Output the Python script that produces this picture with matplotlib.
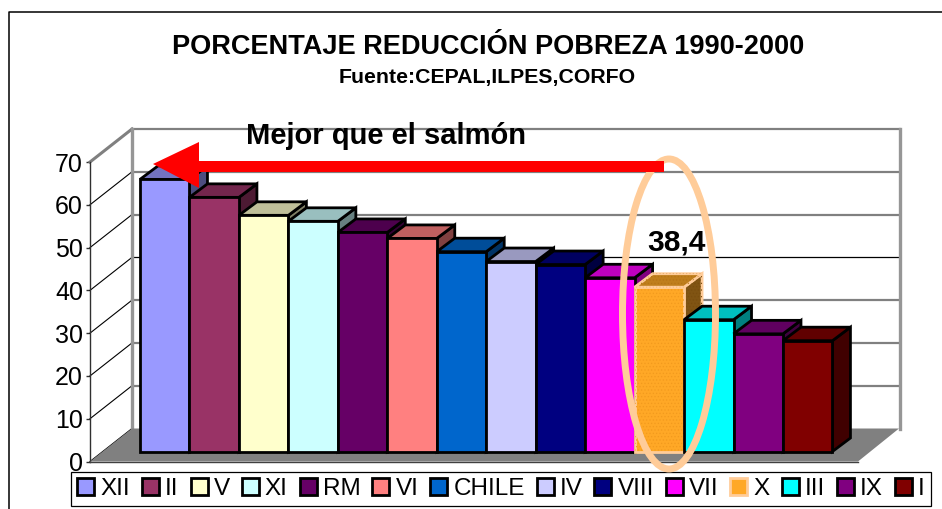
import matplotlib
matplotlib.use('Agg')
import matplotlib.pyplot as plt
from matplotlib.patches import Polygon, Rectangle, Ellipse
from matplotlib.transforms import Affine2D

categories = ["XII", "II", "V", "XI", "RM", "VI", "CHILE", "IV", "VIII", "VII", "X", "III", "IX", "I"]
values = [63.6, 59.4, 55.2, 53.8, 51.2, 49.8, 46.7, 44.4, 43.7, 40.6, 38.4, 30.8, 27.5, 25.9]
colors = ["#9999FF", "#993366", "#FFFFCC", "#CCFFFF", "#660066", "#FF8080", "#0066CC",
          "#CCCCFF", "#000080", "#FF00FF", "#FFA826", "#00FFFF", "#800080", "#800000"]
yticks = [0, 10, 20, 30, 40, 50, 60, 70]
highlight = "X"

W, H = 942, 509
PX_Y = 299.5 / 70        # pixels per unit on the value axis
BAR_W = 49.46            # pixels per category
DEPTH_X, DEPTH_Y = 18, 13.5
WALL_X, WALL_Y = 42, 33
GRID = "#808080"
PALE = "#FFCC99"

plt.rcParams['font.family'] = ['Liberation Sans', 'DejaVu Sans']
plt.rcParams['hatch.linewidth'] = 0.5


def shade(col, f):
    rgb = matplotlib.colors.to_rgb(col)
    return tuple(c * f for c in rgb)


fig = plt.figure(figsize=(W / 100, H / 100), dpi=100)
px = Affine2D().scale(1, -1).translate(0, H)  # picture pixels, y going down

# frame round the chart, runs off the right and bottom
fig.add_artist(plt.Line2D([8.5, 8.5, W + 2], [H + 2, 11.5, 11.5], transform=px, color="black", lw=1.1))

# value axis on the front edge, x in pixels
ay = fig.add_axes([90 / W, (H - 461.5) / H, 815 / W, 299.5 / H])
ay.set_xlim(90, 905)
ay.set_ylim(0, 70)
ay.patch.set_alpha(0)
for s in ["top", "right", "bottom"]:
    ay.spines[s].set_visible(False)
ay.spines["left"].set_linewidth(1.0)
ay.spines["left"].set_color("#303030")
ay.set_xticks([])
ay.set_yticks(yticks)
ay.tick_params(axis="y", labelsize=18, length=3, width=1, pad=2, color="#303030")

wall_dy = WALL_Y / PX_Y
for v in yticks:
    top = v == 70
    ay.plot([90, 90 + WALL_X], [v, v + wall_dy], color=GRID if top else "black",
            lw=2.2 if top else 0.8, clip_on=False, zorder=2)
    if v > 0:
        black = v == 40
        ay.plot([90 + WALL_X, 900], [v + wall_dy, v + wall_dy], color="black" if black else GRID,
                lw=0.9 if black else 1.6, clip_on=False, zorder=2)
ay.plot([90 + WALL_X, 90 + WALL_X], [wall_dy, 70 + wall_dy], color="#969696", lw=2.4, clip_on=False, zorder=3)
ay.plot([900, 900], [wall_dy, 70 + wall_dy], color="#969696", lw=2.4, clip_on=False, zorder=3)

# floor
ay.add_patch(Polygon([(90, 0), (858, 0), (899, wall_dy), (90 + WALL_X, wall_dy)],
                     facecolor="#808080", edgecolor="none", clip_on=False, zorder=4))
ay.plot([90, 858], [0, 0], color="#404040", lw=1.0, clip_on=False, zorder=5)

# bars, x in categories and y in values
ax = fig.add_axes([140 / W, (H - 451.5) / H, BAR_W * len(categories) / W, 299.5 / H])
ax.set_xlim(0, len(categories))
ax.set_ylim(0, 70)
ax.axis("off")
ddx = DEPTH_X / BAR_W
ddy = DEPTH_Y / PX_Y

for i, (name, val, col) in enumerate(zip(categories, values, colors)):
    edge = PALE if name == highlight else "black"
    lw = 2.0
    x0, x1 = i, i + 1
    front = [(x0, 0), (x1, 0), (x1, val), (x0, val)]
    top = [(x0, val), (x1, val), (x1 + ddx, val + ddy), (x0 + ddx, val + ddy)]
    side = [(x1, 0), (x1 + ddx, ddy), (x1 + ddx, val + ddy), (x1, val)]
    z = 3 + i
    for pts, f in [(side, 0.5), (top, 0.75), (front, 1.0)]:
        ax.add_patch(Polygon(pts, closed=True, facecolor=shade(col, f), edgecolor=edge, lw=lw,
                             joinstyle="miter", clip_on=False, zorder=z))
        if name == highlight:
            ax.add_patch(Polygon(pts, closed=True, facecolor="none", edgecolor=shade("#F29A1E", f),
                                 lw=0, hatch=".....", clip_on=False, zorder=z))
    if name == highlight:
        ax.text(x0 + 0.85, val + 10.5, str(val).replace(".", ","), fontsize=21.5, fontweight="bold",
                ha="center", va="center", zorder=40)

# titles
fig.text(488 / W, (H - 47) / H, "PORCENTAJE REDUCCIÓN POBREZA 1990-2000", fontsize=19.5,
         fontweight="bold", ha="center", va="center")
fig.text(487.5 / W, (H - 77) / H, "Fuente:CEPAL,ILPES,CORFO", fontsize=15.3,
         fontweight="bold", ha="center", va="center")
fig.text(386 / W, (H - 136) / H, "Mejor que el salmón", fontsize=21,
         fontweight="bold", ha="center", va="center")

# arrow and ellipse on top of the bars
fig.add_artist(Ellipse((669, 314), 93, 310, transform=px, facecolor="none", edgecolor=PALE, lw=5))
fig.add_artist(Polygon([(664, 161), (199, 161), (199, 142), (153, 164), (199, 188), (199, 172), (664, 172)],
                       closed=True, transform=px, facecolor="#FF0000", edgecolor="none"))

# legend
handles = []
for name, col in zip(categories, colors):
    if name == highlight:
        handles.append(Rectangle((0, 0), 1, 1, facecolor=col, edgecolor=PALE, lw=2))
    else:
        handles.append(Rectangle((0, 0), 1, 1, facecolor=col, edgecolor="black", lw=2))
leg = fig.legend(handles, categories, ncol=len(categories), fontsize=17.5, loc="center",
                 bbox_to_anchor=(501 / W, (H - 489) / H), frameon=True, fancybox=False,
                 edgecolor="black", framealpha=1, handlelength=0.7, handleheight=0.7,
                 handletextpad=0.25, columnspacing=0.49, borderpad=0.25, borderaxespad=0)
leg.get_frame().set_linewidth(0.9)
leg.set_zorder(0.5)

fig.savefig("out.png", dpi=100)
